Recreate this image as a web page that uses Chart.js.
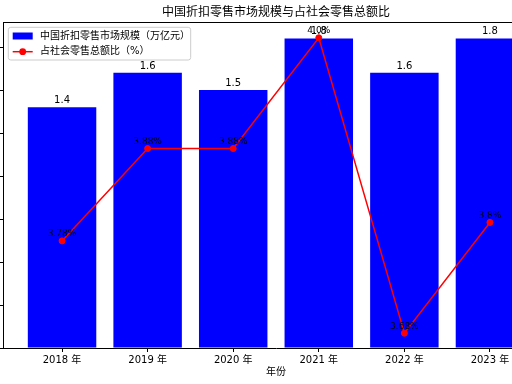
<!DOCTYPE html>
<html><head><meta charset="utf-8">
<script src="https://cdn.jsdelivr.net/npm/chart.js@4/dist/chart.umd.min.js"></script>
<style>
html,body{margin:0;padding:0;overflow:hidden;background:#fff;width:512px;height:384px;}
#wrap{position:absolute;left:-37px;top:0;width:626px;height:384px;}
</style></head><body>
<div id="wrap"><canvas id="c" width="626" height="384"></canvas></div>
<script>
// ---- data ----
const years = ['2018 年','2019 年','2020 年','2021 年','2022 年','2023 年'];
const marketSize = [1.4, 1.6, 1.5, 1.8, 1.6, 1.8];          // 万亿元
const retailShare = [3.78, 3.88, 3.88, 4.0, 3.68, 3.8];     // %
const barLabel = '中国折扣零售市场规模（万亿元）';
const lineLabel = '占社会零售总额比（%）';
const titleText = '中国折扣零售市场规模与占社会零售总额比';
const xTitle = '年份';

const FONT = '"DejaVu Sans", "Noto Sans CJK SC", sans-serif';
Chart.defaults.font.family = FONT;
Chart.defaults.color = '#000';

function fmtPct(v){ let s = String(v); if (s.indexOf('.') < 0) s += '.0'; return s + '%'; }

function roundRectPath(ctx, x, y, w, h, r){
  ctx.beginPath();
  ctx.moveTo(x + r, y);
  ctx.lineTo(x + w - r, y); ctx.arcTo(x + w, y, x + w, y + r, r);
  ctx.lineTo(x + w, y + h - r); ctx.arcTo(x + w, y + h, x + w - r, y + h, r);
  ctx.lineTo(x + r, y + h); ctx.arcTo(x, y + h, x, y + h - r, r);
  ctx.lineTo(x, y + r); ctx.arcTo(x, y, x + r, y, r);
  ctx.closePath();
}

const valueLabels = {
  id: 'valueLabels',
  afterDatasetDraw(chart, args) {
    const ctx = chart.ctx;
    const ds = chart.data.datasets[args.index];
    const isLine = ds.type === 'line';
    ctx.save();
    ctx.font = (isLine ? '9px ' : '10px ') + FONT;
    ctx.fillStyle = '#000';
    ctx.textAlign = 'center';
    ctx.textBaseline = 'alphabetic';
    args.meta.data.forEach((el, i) => {
      const v = ds.data[i].y;
      const txt = isLine ? fmtPct(v) : v.toFixed(1);
      ctx.fillText(txt, el.x, el.y - (isLine ? 4.5 : 4));
    });
    ctx.restore();
  }
};

const frameAndLegend = {
  id: 'frameAndLegend',
  afterDraw(chart) {
    const ctx = chart.ctx, a = chart.chartArea;
    ctx.save();
    // top spine
    ctx.strokeStyle = '#000'; ctx.lineWidth = 1;
    ctx.beginPath();
    const ty = Math.round(a.top) - 0.5;
    ctx.moveTo(a.left, ty); ctx.lineTo(a.right, ty); ctx.stroke();
    // legend box
    const x0 = a.left + 5.3, y0 = a.top + 4.3, w = 182.4, h = 32.7;
    roundRectPath(ctx, x0, y0, w, h, 2.5);
    ctx.fillStyle = 'rgba(255,255,255,0.8)'; ctx.fill();
    ctx.strokeStyle = '#cccccc'; ctx.lineWidth = 1; ctx.stroke();
    const ds = chart.data.datasets;
    const r1 = a.top + 13, r2 = a.top + 28.7;
    const hx = a.left + 9.7;
    ctx.fillStyle = ds[0].backgroundColor;
    ctx.fillRect(hx, r1 - 3.5, 20, 7);
    ctx.strokeStyle = ds[1].borderColor; ctx.lineWidth = 1.5;
    ctx.beginPath(); ctx.moveTo(hx, r2); ctx.lineTo(hx + 20, r2); ctx.stroke();
    ctx.fillStyle = ds[1].borderColor;
    ctx.beginPath(); ctx.arc(hx + 10, r2, 3.4, 0, Math.PI * 2); ctx.fill();
    ctx.fillStyle = '#000';
    ctx.font = '10px ' + FONT;
    ctx.textAlign = 'left'; ctx.textBaseline = 'middle';
    ctx.fillText(ds[0].label, a.left + 37, r1);
    ctx.fillText(ds[1].label, a.left + 37, r2);
    ctx.restore();
  }
};

new Chart(document.getElementById('c'), {
  type: 'bar',
  data: {
    datasets: [
      {
        type: 'bar', label: barLabel,
        data: years.map((_, i) => ({ x: i, y: marketSize[i] })),
        backgroundColor: '#0000ff', borderWidth: 0,
        barPercentage: 0.8, categoryPercentage: 1.0,
        yAxisID: 'y', order: 1
      },
      {
        type: 'line', label: lineLabel,
        data: years.map((_, i) => ({ x: i, y: retailShare[i] })),
        borderColor: '#ff0000', backgroundColor: '#ff0000',
        borderWidth: 1.5, tension: 0,
        pointRadius: 3, pointBorderWidth: 1,
        pointBackgroundColor: '#ff0000', pointBorderColor: '#ff0000',
        yAxisID: 'y2', order: 0
      }
    ]
  },
  options: {
    responsive: false, animation: false, devicePixelRatio: 1,
    layout: { padding: 0 },
    plugins: {
      legend: { display: false },
      tooltip: { enabled: false },
      title: {
        display: true, text: titleText, color: '#000',
        font: { size: 12, weight: 'normal' },
        padding: { top: 6, bottom: 2.6 }
      }
    },
    scales: {
      x: {
        type: 'linear', min: -0.69, max: 5.69, offset: false,
        afterBuildTicks: s => { s.ticks = years.map((_, i) => ({ value: i })); },
        ticks: { callback: v => years[v], font: { size: 10 }, color: '#000', padding: 2, autoSkip: false, maxRotation: 0 },
        grid: { display: true, drawOnChartArea: false, drawTicks: true, tickLength: 4, color: '#000', offset: false },
        border: { display: true, color: '#000', width: 1 },
        title: { display: true, text: xTitle, font: { size: 10 }, color: '#000', padding: { top: 0, bottom: 5.5 } },
        afterFit: s => { s.height = 36; }
      },
      y: {
        type: 'linear', position: 'left', min: 0, max: 1.89,
        ticks: { stepSize: 0.25, includeBounds: false, callback: v => v.toFixed(2), font: { size: 10 } },
        grid: { display: true, drawOnChartArea: false, tickLength: 4, color: '#000' },
        border: { display: true, color: '#000', width: 1 },
        afterFit: s => { s.width = 40; }
      },
      y2: {
        type: 'linear', position: 'right', min: 3.664, max: 4.016,
        ticks: { stepSize: 0.05, includeBounds: false, callback: v => v.toFixed(2), font: { size: 10 } },
        grid: { display: true, drawOnChartArea: false, tickLength: 4, color: '#000' },
        border: { display: true, color: '#000', width: 1 },
        afterFit: s => { s.width = 40; }
      }
    }
  },
  plugins: [valueLabels, frameAndLegend]
});
</script>
</body></html>
